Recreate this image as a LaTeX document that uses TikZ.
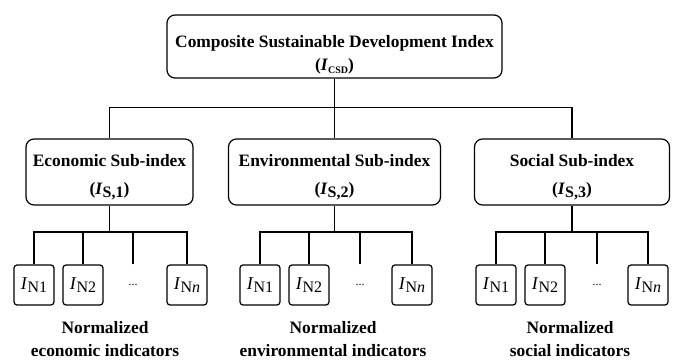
\documentclass[tikz,border=0pt]{standalone}
\usepackage{fontspec}
\setmainfont{Liberation Serif}

% italic I with a lowered subscript
\newcommand{\Isub}[2]{\textit{I}\raisebox{-3.5pt}{\fontsize{#1}{#1}\selectfont #2}}

\tikzset{
  bigbox/.style={draw, rounded corners=8pt, line width=1.2pt, align=center,
    inner sep=0pt, font=\bfseries\fontsize{17.4}{28}\selectfont},
  smallbox/.style={draw, rounded corners=3pt, line width=1.2pt,
    minimum width=40pt, minimum height=40pt, inner sep=0pt,
    font=\fontsize{18}{18}\selectfont},
  link/.style={line width=1.2pt},
  caption/.style={align=center, inner sep=0pt,
    font=\bfseries\fontsize{17.4}{23}\selectfont}
}

\begin{document}
\begin{tikzpicture}[x=1pt,y=-1pt]
      \useasboundingbox (0,0) rectangle (673,361);

      \def\subrow{285}
      \def\caprow{339}

      % top level
      \path node (csd) at (334.5,46.5)
            [bigbox,minimum width=335pt,minimum height=63pt,
             font=\bfseries\fontsize{17.4}{23}\selectfont]
            {\rule{0pt}{28pt}Composite Sustainable Development Index\\
             (\Isub{10}{CSD})};

      % sub-indices
      \path node (econ) at (109.5,172)
            [bigbox,minimum width=167pt,minimum height=66pt]
            {\rule{0pt}{22pt}Economic Sub-index\\(\Isub{16}{S,1})};
      \path node (env) at (334.5,172)
            [bigbox,minimum width=212pt,minimum height=66pt]
            {\rule{0pt}{22pt}Environmental Sub-index\\(\Isub{16}{S,2})};
      \path node (soc) at (572,172)
            [bigbox,minimum width=195pt,minimum height=66pt]
            {\rule{0pt}{22pt}Social Sub-index\\(\Isub{16}{S,3})};

      \coordinate (topbus) at (0,107.5);
      \draw[link] (csd.south) -- (env.north);
      \draw[link] (econ.north) |- (topbus -| soc.north) -- (soc.north);

      % economic indicators
      \path node (e1) at (34,\subrow) [smallbox] {\Isub{16}{N1}};
      \path node (e2) at (83,\subrow) [smallbox] {\Isub{16}{N2}};
      \path node (edots) at (133,\subrow) {\fontsize{12}{12}\selectfont ...};
      \path node (en) at (187,\subrow) [smallbox] {\Isub{16}{N\textit{n}}};
      \coordinate (ebus) at (0,232);
      \draw[link] (econ.south) -- (econ.south |- ebus);
      \draw[link] (e1.north) |- (ebus -| en.north) -- (en.north);
      \draw[link] (e2.north) -- (e2.north |- ebus);
      \draw[link] (edots |- e1.north) -- (edots |- ebus);
      \path node (ecap) at (105,\caprow) [caption]
            {Normalized\\economic indicators};

      % environmental indicators
      \path node (v1) at (260,\subrow) [smallbox] {\Isub{16}{N1}};
      \path node (v2) at (309,\subrow) [smallbox] {\Isub{16}{N2}};
      \path node (vdots) at (360,\subrow) {\fontsize{12}{12}\selectfont ...};
      \path node (vn) at (412,\subrow) [smallbox] {\Isub{16}{N\textit{n}}};
      \coordinate (vbus) at (0,232);
      \draw[link] (env.south) -- (env.south |- vbus);
      \draw[link] (v1.north) |- (vbus -| vn.north) -- (vn.north);
      \draw[link] (v2.north) -- (v2.north |- vbus);
      \draw[link] (vdots |- v1.north) -- (vdots |- vbus);
      \path node (vcap) at (333,\caprow) [caption]
            {Normalized\\environmental indicators};

      % social indicators
      \path node (s1) at (496,\subrow) [smallbox] {\Isub{16}{N1}};
      \path node (s2) at (545,\subrow) [smallbox] {\Isub{16}{N2}};
      \path node (sdots) at (597,\subrow) {\fontsize{12}{12}\selectfont ...};
      \path node (sn) at (648,\subrow) [smallbox] {\Isub{16}{N\textit{n}}};
      \coordinate (sbus) at (0,232);
      \draw[link] (soc.south) -- (soc.south |- sbus);
      \draw[link] (s1.north) |- (sbus -| sn.north) -- (sn.north);
      \draw[link] (s2.north) -- (s2.north |- sbus);
      \draw[link] (sdots |- s1.north) -- (sdots |- sbus);
      \path node (scap) at (570,\caprow) [caption]
            {Normalized\\social indicators};
\end{tikzpicture}
\end{document}
